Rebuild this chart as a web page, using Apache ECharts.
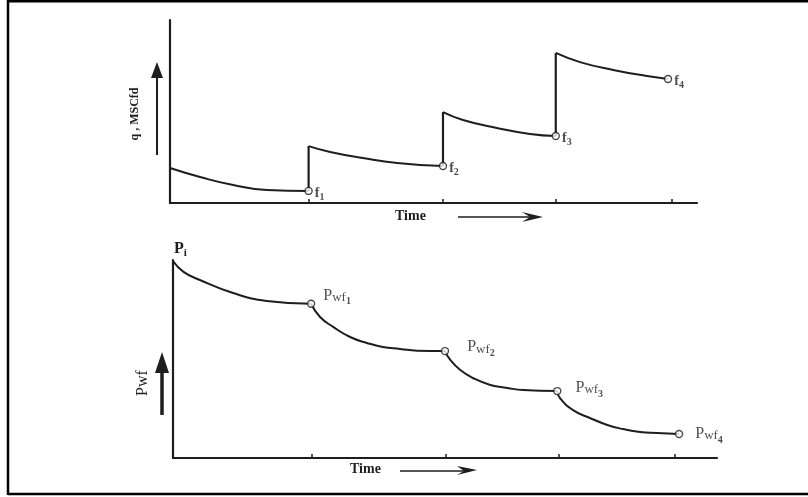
<!DOCTYPE html>
<html><head><meta charset="utf-8">
<script src="https://cdn.jsdelivr.net/npm/echarts@6/dist/echarts.min.js"></script>
<style>html,body{margin:0;padding:0;background:#fff}#c{width:808px;height:497px}</style>
</head><body><div id="c"></div>
<script>
// ---- data (arbitrary units) ----
const timeTicks = [26.3, 51.8, 73.2, 95.2];

// top: gas rate q vs time, four declining periods
const qSeg1 = [[0,19.1],[5.7,14.2],[12.0,9.8],[18.4,7.1],[26.3,6.6]];
const qSeg2 = [[26.3,31.1],[30.4,27.9],[36.6,24.6],[43.1,21.9],[51.8,20.2]];
const qSeg3 = [[51.8,49.7],[55.6,45.4],[62.0,41.0],[68.3,37.7],[73.2,36.6]];
const qSeg4 = [[73.2,82.0],[77.8,77.0],[84.1,72.7],[90.5,69.4],[94.5,67.8]];
const qLabels = ['1','2','3','4'];

// bottom: flowing pressure vs time
const pSeg1 = [[0,99.5],[2.0,94.0],[5.1,89.9],[11.4,83.3],[17.8,79.3],[26.2,77.9]];
const pSeg2 = [[26.2,77.9],[27.9,71.2],[30.4,66.2],[33.6,61.1],[36.8,58.1],[39.8,56.1],[43.1,55.1],[46.3,54.2],[51.6,54.0]];
const pSeg3 = [[51.6,54.0],[52.6,49.5],[54.5,44.4],[56.9,40.4],[60.2,36.9],[63.4,35.4],[66.4,34.3],[72.9,33.8]];
const pSeg4 = [[72.9,33.8],[73.4,30.3],[75.9,24.2],[79.1,20.2],[82.4,16.7],[85.4,14.6],[88.6,13.1],[91.8,12.6],[96.0,12.1]];
const pLabels = ['1','2','3','4'];

const INK = '#1e1e1e';
const SERIF = '"Liberation Serif","DejaVu Serif",serif';

const qSegs = [qSeg1,qSeg2,qSeg3,qSeg4];
const pSegs = [pSeg1,pSeg2,pSeg3,pSeg4];

function curve(data, idx){
  return {type:'line', xAxisIndex:idx, yAxisIndex:idx, data:data, smooth:0.5,
    showSymbol:false, symbol:'none', lineStyle:{color:INK,width:2}, silent:true, z:3};
}
const series = [];
qSegs.forEach(s => series.push(curve(s,0)));
// vertical rate jumps between periods
for (let i=1;i<qSegs.length;i++){
  const a = qSegs[i-1][qSegs[i-1].length-1], b = qSegs[i][0];
  series.push({type:'line', xAxisIndex:0, yAxisIndex:0, data:[[b[0],a[1]],b], symbol:'none',
    lineStyle:{color:INK,width:2.2}, silent:true, z:3});
}
pSegs.forEach(s => series.push(curve(s,1)));

const richQ = {a:{fontFamily:SERIF,fontSize:14,color:INK,fontWeight:'bold'},
               s:{fontFamily:SERIF,fontSize:10,color:INK,fontWeight:'bold',padding:[9,0,0,0]}};
const mark = {color:'#ffffff',borderColor:INK,borderWidth:1.4};
series.push({type:'scatter', xAxisIndex:0, yAxisIndex:0, symbol:'circle', symbolSize:7,
  itemStyle:mark, z:5,
  data: qSegs.map((s,i)=>({value:s[s.length-1], lab:qLabels[i]})),
  label:{show:true, position:'right', distance:2, offset:[0,2],
    formatter:p=>'{a|f}{s|'+p.data.lab+'}', rich:richQ}});

const richP = {a:{fontFamily:SERIF,fontSize:16,color:INK},
               w:{fontFamily:SERIF,fontSize:13,color:INK,padding:[4,0,0,0]},
               s:{fontFamily:SERIF,fontSize:10,color:INK,fontWeight:'bold',padding:[12,0,0,0]}};
const pOff = [[6,-8],[16,-4],[12,-3],[10,0]];
series.push({type:'scatter', xAxisIndex:1, yAxisIndex:1, symbol:'circle', symbolSize:7,
  itemStyle:mark, z:5,
  data: pSegs.map((s,i)=>({value:s[s.length-1], lab:pLabels[i],
     label:{offset:pOff[i]}})),
  label:{show:true, position:'right', distance:2,
    formatter:p=>'{a|P}{w|wf}{s|'+p.data.lab+'}', rich:richP}});

function xAx(idx,max){
  return {type:'value', gridIndex:idx, min:0, max:max,
    axisLine:{show:true,onZero:false,lineStyle:{color:INK,width:2.2}},
    axisTick:{show:true, inside:true, length:4, customValues:timeTicks, lineStyle:{color:INK,width:1.5}},
    axisLabel:{show:false}, splitLine:{show:false}};
}
function yAx(idx){
  return {type:'value', gridIndex:idx, min:0, max:100,
    axisLine:{show:true,onZero:false,lineStyle:{color:INK,width:2.2}},
    axisTick:{show:false}, axisLabel:{show:false}, splitLine:{show:false}};
}

function txt(x,y,text,size,weight,extra){
  return Object.assign({type:'text', x:x, y:y,
    style:{text:text, fontFamily:SERIF, fontSize:size, fontWeight:weight, fill:INK, verticalAlign:'middle'}}, extra||{});
}
const g1 = txt(135,114,'q , MSCfd',12,'bold',{rotation:Math.PI/2}); g1.style.align='center';
const g2 = txt(143,383,'Pwf',16,'normal',{rotation:Math.PI/2}); g2.style.align='center';

const option = {
  backgroundColor:'#fff',
  animation:false,
  grid:[{left:170, top:20, width:527, height:183},
        {left:173, top:260, width:544, height:198}],
  xAxis:[xAx(0,100), xAx(1,103.2)],
  yAxis:[yAx(0), yAx(1)],
  series:series,
  graphic:[
    // frame
    {type:'line', shape:{x1:8,y1:0,x2:8,y2:495}, style:{stroke:'#000',lineWidth:2.5}},
    {type:'line', shape:{x1:8,y1:1,x2:808,y2:1}, style:{stroke:'#000',lineWidth:3}},
    {type:'line', shape:{x1:8,y1:494,x2:808,y2:494}, style:{stroke:'#000',lineWidth:2.5}},
    // top y label + arrow
    g1,
    {type:'line', shape:{x1:157,y1:155,x2:157,y2:72}, style:{stroke:INK,lineWidth:2}},
    {type:'polygon', shape:{points:[[157,62],[151,78],[163,78]]}, style:{fill:INK}},
    // bottom y label + arrow
    g2,
    {type:'line', shape:{x1:162,y1:415,x2:162,y2:368}, style:{stroke:INK,lineWidth:3.5}},
    {type:'polygon', shape:{points:[[162,352],[155,373],[169,373]]}, style:{fill:INK}},
    // Pi
    {type:'text', x:174, y:249, style:{text:'{a|P}{s|i}', verticalAlign:'middle',
      rich:{a:{fontFamily:SERIF,fontSize:16,fontWeight:'bold',fill:INK},
            s:{fontFamily:SERIF,fontSize:11,fontWeight:'bold',fill:INK,padding:[8,0,0,0]}}}},
    // top Time
    txt(395,216,'Time',14,'bold'),
    {type:'line', shape:{x1:458,y1:217,x2:536,y2:217}, style:{stroke:INK,lineWidth:1.5}},
    {type:'polygon', shape:{points:[[543,217],[522,212],[530,217],[522,222]]}, style:{fill:INK}},
    // bottom Time
    txt(350,469,'Time',14,'bold'),
    {type:'line', shape:{x1:400,y1:471,x2:470,y2:471}, style:{stroke:INK,lineWidth:1.5}},
    {type:'polygon', shape:{points:[[477,470],[457,466],[464,471],[457,475]]}, style:{fill:INK}}
  ]
};
const chart = echarts.init(document.getElementById('c'), null, {renderer:'canvas'});
chart.setOption(option);
</script></body></html>
